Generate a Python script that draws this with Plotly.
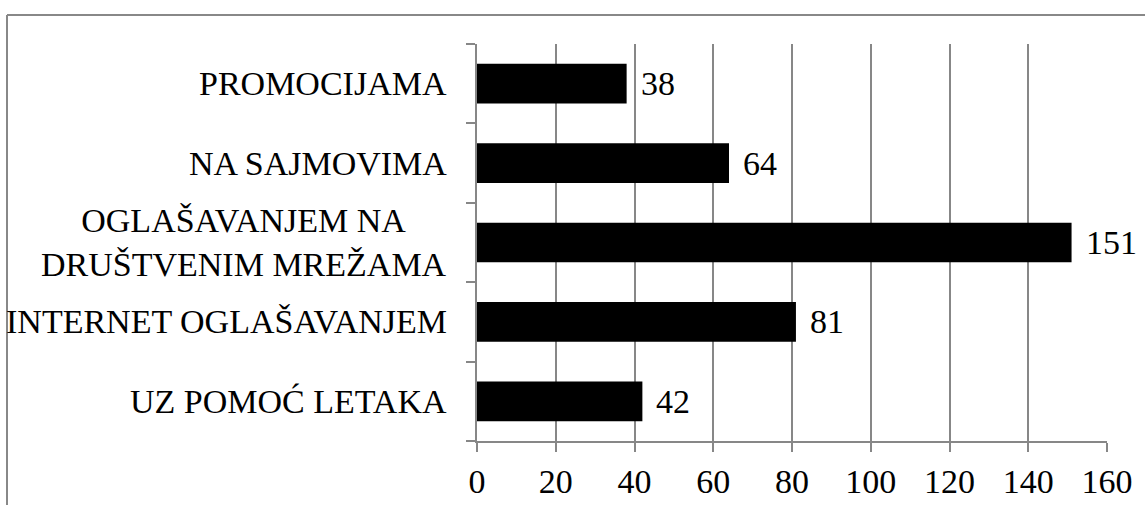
import plotly.graph_objects as go

# Kategorije (odozdo prema gore) i broj odgovora
categories = [
    "UZ POMOĆ LETAKA",
    "INTERNET OGLAŠAVANJEM",
    "OGLAŠAVANJEM NA<br>DRUŠTVENIM MREŽAMA",
    "NA SAJMOVIMA",
    "PROMOCIJAMA",
]
values = [42, 81, 151, 64, 38]
x_ticks = [0, 20, 40, 60, 80, 100, 120, 140, 160]

W, H = 1145, 505
ML, MR, MT, MB = 477, 38, 44, 64
FONT = "Liberation Serif, Times New Roman, serif"
FS = 34
GRID = "#878787"

fig = go.Figure()
fig.add_trace(go.Bar(
    x=values,
    y=categories,
    orientation="h",
    marker=dict(color="black", line=dict(width=0)),
    width=0.5,
    hoverinfo="skip",
))

# Vrijednosti desno od stupaca
for c, v in zip(categories, values):
    fig.add_annotation(
        x=v, y=c, xref="x", yref="y", text=str(v),
        showarrow=False, xanchor="left", xshift=12,
        font=dict(family=FONT, size=FS, color="black"),
    )

# Nazivi kategorija, centrirani unutar bloka i poravnati uz os
for c in categories:
    fig.add_annotation(
        x=0, y=c, xref="paper", yref="y", text=c,
        showarrow=False, xanchor="right", align="center",
        xshift=-28,
        font=dict(family=FONT, size=FS, color="black"),
    )

# Okvir grafikona (gornji i lijevi rub)
pw, ph = W - ML - MR, H - MT - MB
def px(xp):
    return (xp - ML) / pw
def py(yp):
    return (H - MB - yp) / ph

fig.add_shape(type="line", xref="paper", yref="paper",
              x0=px(7), y0=py(15), x1=px(1160), y1=py(15),
              line=dict(color="#888888", width=2))
fig.add_shape(type="line", xref="paper", yref="paper",
              x0=px(7), y0=py(15), x1=px(7), y1=py(520),
              line=dict(color="#888888", width=2))

fig.update_layout(
    width=W, height=H,
    margin=dict(l=ML, r=MR, t=MT, b=MB, autoexpand=False),
    paper_bgcolor="white", plot_bgcolor="white",
    showlegend=False,
    bargap=0.5,
    font=dict(family=FONT, size=FS, color="black"),
    xaxis=dict(
        range=[0, 160],
        tickvals=x_ticks,
        ticktext=[str(t) for t in x_ticks],
        showgrid=True, gridcolor=GRID, gridwidth=1.5,
        zeroline=False,
        showline=True, linecolor=GRID, linewidth=2,
        ticks="outside", ticklen=9, tickcolor=GRID, tickwidth=1.5,
        tickfont=dict(family=FONT, size=FS, color="black"),
        automargin=False,
        fixedrange=True,
    ),
    yaxis=dict(
        type="category",
        categoryorder="array", categoryarray=categories,
        showticklabels=False,
        showgrid=False, zeroline=False,
        showline=True, linecolor=GRID, linewidth=2,
        ticks="outside", ticklen=9, tickcolor=GRID, tickwidth=1.5,
        tickson="boundaries",
        automargin=False,
        fixedrange=True,
    ),
)

fig.write_html("out.html", config={"displayModeBar": False})
